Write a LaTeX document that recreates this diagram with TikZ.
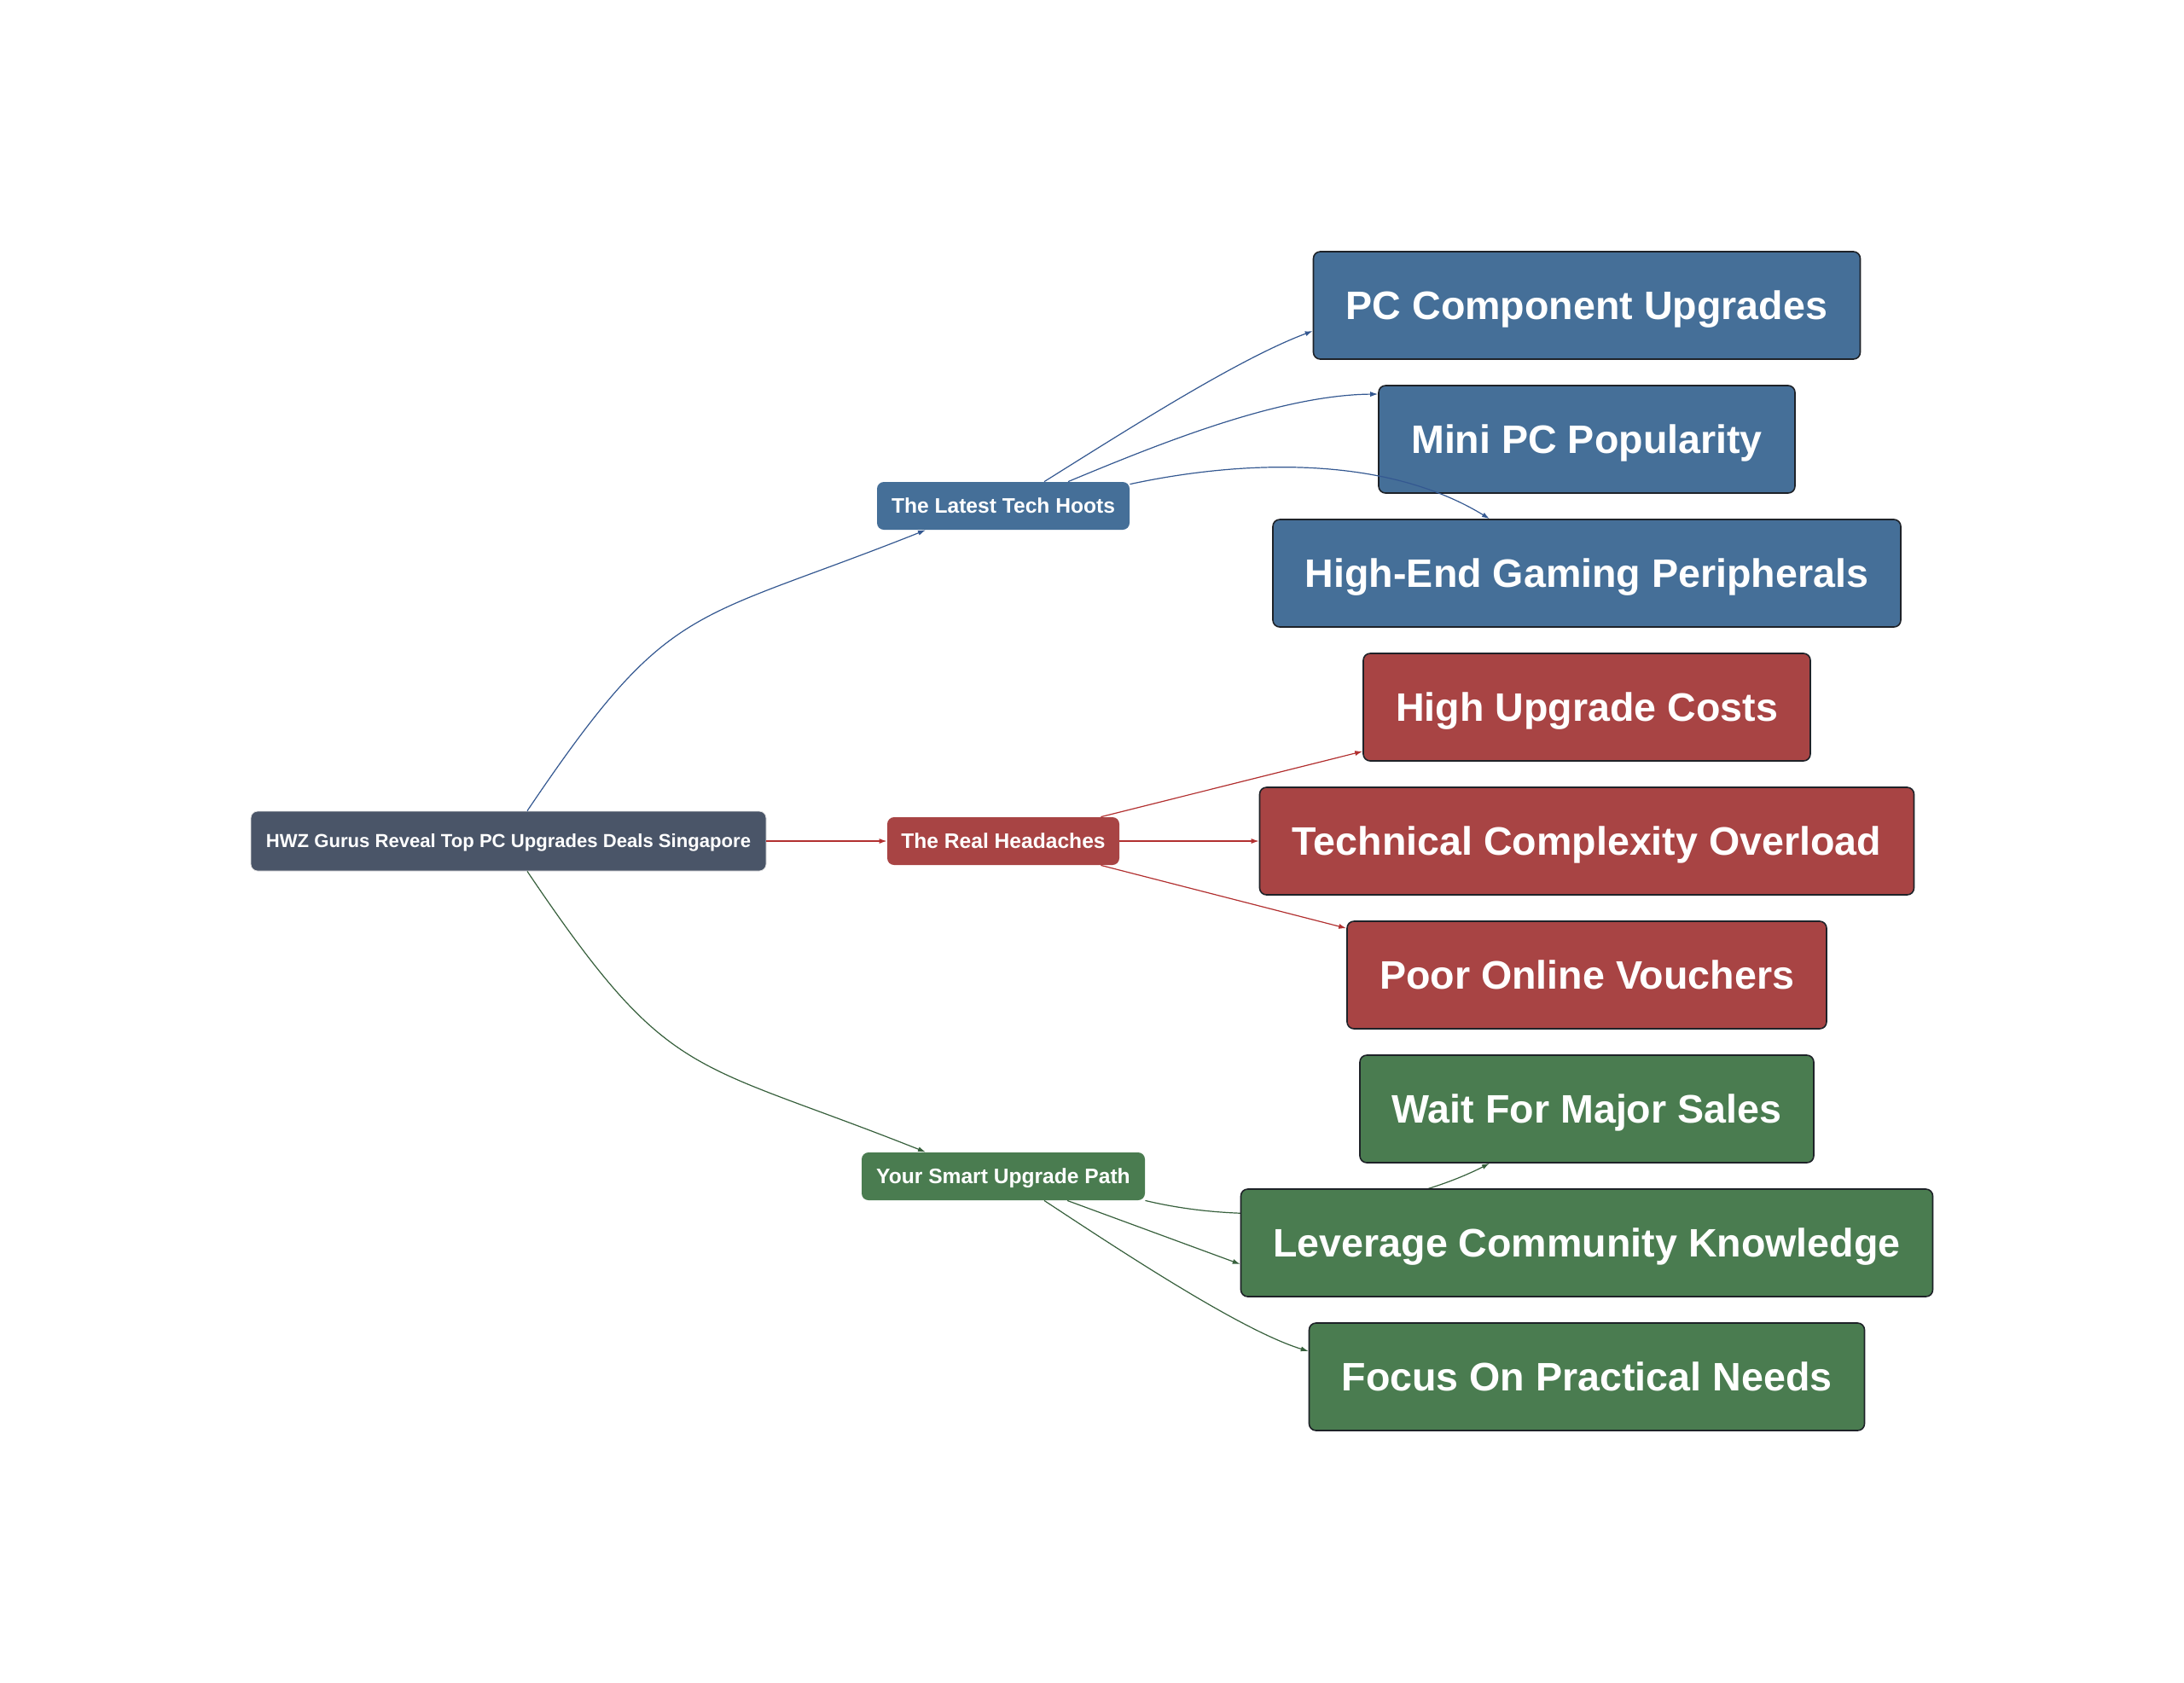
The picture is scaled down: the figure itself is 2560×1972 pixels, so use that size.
\documentclass[tikz,border=0pt]{standalone}
\usepackage{fontspec}
\setmainfont{Liberation Sans}
\usetikzlibrary{arrows.meta,calc}
\pgfdeclarelayer{back}
\pgfdeclarelayer{bg}
\pgfsetlayers{back,bg,main}
\definecolor{cblue}{RGB}{69,111,152}
\definecolor{cred}{RGB}{168,68,68}
\definecolor{cgreen}{RGB}{74,124,80}
\definecolor{croot}{RGB}{74,85,104}
\definecolor{eblue}{RGB}{52,88,145}
\definecolor{ered}{RGB}{178,48,48}
\definecolor{egreen}{RGB}{55,96,60}
\definecolor{bdark}{RGB}{30,34,40}
\tikzset{
  box/.style={rectangle, rounded corners=4pt, inner sep=0pt, text=white, align=center, text depth=0pt},
  leaf/.style={box, draw=bdark, line width=0.8pt, minimum height=63pt, text height=16.7pt, font=\bfseries\fontsize{23.3}{27}\selectfont},
  mid/.style={box, minimum height=28pt, text height=8.8pt, font=\bfseries\fontsize{12.3}{14}\selectfont},
  rootbox/.style={box, draw=black!12, line width=0.4pt, fill=croot, minimum height=35pt, text height=7.9pt, font=\bfseries\fontsize{11.05}{13}\selectfont},
  conn/.style={line width=0.6pt, -{Latex[length=4.5pt,width=3pt]}},
}
\begin{document}
\begin{tikzpicture}[x=0.5pt,y=-0.5pt]
\begin{pgfonlayer}{back}
\fill[white] (0,0) rectangle (2560,1972);
\end{pgfonlayer}
\useasboundingbox (0,0) rectangle (2560,1972);

% root and middle level
\node[rootbox, minimum width=302pt] (root) at (596,986) {HWZ Gurus Reveal Top PC Upgrades Deals Singapore};
\node[mid, fill=cblue, minimum width=148pt] (tech) at (1176,593) {The Latest Tech Hoots};
\node[mid, fill=cred, minimum width=136pt] (real) at (1176,986) {The Real Headaches};
\node[mid, fill=cgreen, minimum width=166pt] (smart) at (1176,1379) {Your Smart Upgrade Path};

% leaves
\node[leaf, fill=cblue, minimum width=320.5pt] (pc) at (1860,358) {PC Component Upgrades};
\node[leaf, fill=cblue, minimum width=244pt] (mini) at (1860,515) {Mini PC Popularity};
\node[leaf, fill=cblue, minimum width=368pt] (he) at (1860,672) {High-End Gaming Peripherals};
\node[leaf, fill=cred, minimum width=262pt] (hu) at (1860,829) {High Upgrade Costs};
\node[leaf, fill=cred, minimum width=383.5pt] (tco) at (1860,986) {Technical Complexity Overload};
\node[leaf, fill=cred, minimum width=281pt] (poor) at (1860,1143) {Poor Online Vouchers};
\node[leaf, fill=cgreen, minimum width=266pt] (wait) at (1860,1300) {Wait For Major Sales};
\node[leaf, fill=cgreen, minimum width=405.5pt] (lev) at (1860,1457) {Leverage Community Knowledge};
\node[leaf, fill=cgreen, minimum width=325.5pt] (focus) at (1860,1614) {Focus On Practical Needs};

% edge hidden behind the Leverage box
\begin{pgfonlayer}{bg}
\draw[conn, egreen] (smart.south east) .. controls +(150,36) and +(-89,46) .. ($(wait.south)+(-114,0)$);
\end{pgfonlayer}

% root edges
\draw[conn, eblue] ($(root.north)+(22,0)$) .. controls +(168,-249) and +(-279,111) .. ($(tech.south)+(-91,0)$);
\draw[conn, ered] (root.east) -- (real.west);
\draw[conn, egreen] ($(root.south)+(22,0)$) .. controls +(168,249) and +(-279,-111) .. ($(smart.north)+(-91,0)$);

% tech hoots edges
\draw[conn, eblue] ($(tech.north)+(48,0)$) .. controls +(96,-60) and +(-88,33) .. ($(pc.west)+(0,30)$);
\draw[conn, eblue] ($(tech.north)+(76,0)$) .. controls +(108,-45) and +(-115,1) .. ($(mini.west)+(0,-53)$);
\draw[conn, eblue] ($(tech.north east)+(0,3)$) .. controls +(125,-27) and +(-126,-77) .. ($(he.north)+(-114,0)$);

% real headaches edges
\draw[conn, ered] ($(real.north east)+(-22,0)$) -- ($(hu.south west)+(0,-12)$);
\draw[conn, ered] (real.east) -- (tco.west);
\draw[conn, ered] ($(real.south east)+(-22,0)$) -- ($(poor.north west)+(0,9)$);

% smart path edges
\draw[conn, egreen] ($(smart.south)+(75,0)$) -- ($(lev.west)+(0,25)$);
\draw[conn, egreen] ($(smart.south)+(48,0)$) .. controls +(106,70) and +(-75,-23) .. ($(focus.west)+(0,-30)$);
\end{tikzpicture}
\end{document}
